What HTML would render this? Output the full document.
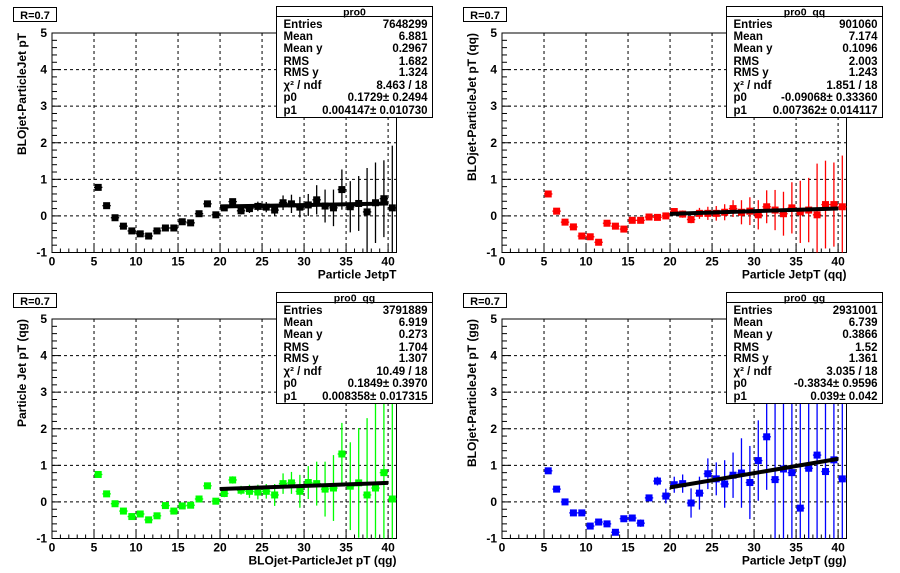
<!DOCTYPE html>
<html><head><meta charset="utf-8"><style>
html,body{margin:0;padding:0;background:#fff;overflow:hidden;width:900px;height:573px;}
svg{display:block;}
svg text{font-family:"Liberation Sans",Arial,sans-serif;font-weight:bold;}
</style></head><body>
<svg id="c" width="900" height="573" xmlns="http://www.w3.org/2000/svg"></svg>
<script>
const binCenters=[5.5,6.5,7.5,8.5,9.5,10.5,11.5,12.5,13.5,14.5,15.5,16.5,17.5,18.5,19.5,20.5,21.5,22.5,23.5,24.5,25.5,26.5,27.5,28.5,29.5,30.5,31.5,32.5,33.5,34.5,35.5,36.5,37.5,38.5,39.5,40.5];
const allVals=[0.78,0.28,-0.05,-0.28,-0.41,-0.49,-0.55,-0.41,-0.33,-0.33,-0.16,-0.19,0.06,0.33,0.03,0.22,0.39,0.14,0.2,0.26,0.24,0.16,0.36,0.33,0.24,0.3,0.44,0.27,0.22,0.72,0.25,0.34,0.11,0.36,0.47,0.22];
const allErrs=[0.03,0.03,0.03,0.03,0.03,0.03,0.03,0.03,0.03,0.03,0.03,0.03,0.03,0.03,0.03,0.08,0.08,0.1,0.12,0.13,0.14,0.15,0.2,0.25,0.28,0.3,0.4,0.45,0.5,0.55,0.7,0.75,1.2,1.1,1.05,1.7];
const qqVals=[0.6,0.13,-0.17,-0.3,-0.55,-0.57,-0.72,-0.2,-0.28,-0.36,-0.12,-0.12,-0.03,-0.04,0.0,0.12,0.05,-0.1,0.07,0.07,0.07,0.1,0.2,0.1,0.13,0.03,0.25,0.16,0.06,0.22,0.11,0.16,0.03,0.31,0.31,0.25];
const qqErrs=[0.03,0.03,0.03,0.03,0.03,0.03,0.03,0.03,0.03,0.03,0.03,0.03,0.04,0.05,0.06,0.08,0.1,0.1,0.15,0.18,0.2,0.22,0.23,0.33,0.38,0.4,0.45,0.55,0.6,0.7,0.85,0.88,1.4,1.2,1.15,1.4];
const qgVals=[0.75,0.22,-0.05,-0.25,-0.4,-0.33,-0.49,-0.38,-0.1,-0.25,-0.11,-0.09,0.08,0.44,0.02,0.23,0.6,0.32,0.29,0.27,0.29,0.19,0.5,0.52,0.29,0.53,0.5,0.35,0.38,1.31,0.43,0.52,0.19,0.38,0.8,0.08];
const qgErrs=[0.03,0.03,0.03,0.03,0.03,0.03,0.03,0.03,0.03,0.03,0.03,0.03,0.04,0.05,0.06,0.1,0.1,0.12,0.18,0.2,0.2,0.3,0.28,0.3,0.45,0.45,0.6,0.75,0.9,0.85,1.2,1.5,2.1,2.4,2.5,2.6];
const ggVals=[0.85,0.35,0.0,-0.3,-0.3,-0.66,-0.55,-0.6,-0.83,-0.46,-0.44,-0.58,0.11,0.57,0.16,0.47,0.5,-0.03,0.24,0.77,0.63,0.49,0.73,0.79,0.53,1.13,1.78,0.61,0.9,0.8,-0.17,0.92,1.28,0.83,1.15,0.63];
const ggErrs=[0.03,0.03,0.03,0.03,0.03,0.03,0.03,0.03,0.03,0.04,0.04,0.1,0.07,0.12,0.2,0.22,0.25,0.4,0.45,0.42,0.45,0.65,0.62,0.95,1.0,1.1,1.45,4,4,4,4,4,4,4,4,4];
const xTicks=[0,5,10,15,20,25,30,35,40];
const yTicks=[-1,0,1,2,3,4,5];
const panels=[
 {ox:0,oy:0,vals:allVals,errs:allErrs,color:'#000',p0:0.1729,p1:0.004147,title:'pro0',xt:'Particle JetpT',yt:'BLOjet-ParticleJet pT',
  stats:[['Entries','7648299'],['Mean','6.881'],['Mean y','0.2967'],['RMS','1.682'],['RMS y','1.324'],['χ² / ndf','8.463 / 18'],['p0','0.1729± 0.2494'],['p1','0.004147± 0.010730']]},
 {ox:450,oy:0,vals:qqVals,errs:qqErrs,color:'#f00',p0:-0.09068,p1:0.007362,title:'pro0_qq',xt:'Particle JetpT (qq)',yt:'BLOjet-ParticleJet pT (qq)',
  stats:[['Entries','901060'],['Mean','7.174'],['Mean y','0.1096'],['RMS','2.003'],['RMS y','1.243'],['χ² / ndf','1.851 / 18'],['p0','-0.09068± 0.33360'],['p1','0.007362± 0.014117']]},
 {ox:0,oy:286,vals:qgVals,errs:qgErrs,color:'#0f0',p0:0.1849,p1:0.008358,title:'pro0_qg',xt:'BLOjet-ParticleJet pT (qg)',yt:'Particle Jet pT (qg)',
  stats:[['Entries','3791889'],['Mean','6.919'],['Mean y','0.273'],['RMS','1.704'],['RMS y','1.307'],['χ² / ndf','10.49 / 18'],['p0','0.1849± 0.3970'],['p1','0.008358± 0.017315']]},
 {ox:450,oy:286,vals:ggVals,errs:ggErrs,color:'#00f',p0:-0.3834,p1:0.039,title:'pro0_gg',xt:'Particle JetpT (gg)',yt:'BLOjet-ParticleJet pT (gg)',
  stats:[['Entries','2931001'],['Mean','6.739'],['Mean y','0.3866'],['RMS','1.52'],['RMS y','1.361'],['χ² / ndf','3.035 / 18'],['p0','-0.3834± 0.9596'],['p1','0.039± 0.042']]}
];
const NS='http://www.w3.org/2000/svg';
const svg=document.getElementById('c');
function el(tag,attrs,parent,txt){const e=document.createElementNS(NS,tag);for(const k in attrs)e.setAttribute(k,attrs[k]);if(txt!==undefined)e.textContent=txt;parent.appendChild(e);return e;}
panels.forEach((p,i)=>{
 const g=el('g',{},svg);
 
 
 const L=p.ox+52,R=p.ox+396.5,T=p.oy+33,B=p.oy+252.5;
 const xs=v=>L+(v/41)*(R-L);
 const ys=v=>B-((v+1)/6)*(B-T);
 const clipId='clip'+i;
 const cp=el('clipPath',{id:clipId},g);el('rect',{x:L,y:T,width:R-L,height:B-T},cp);
 xTicks.forEach(t=>{if(t>0){const l=el('line',{x1:xs(t),x2:xs(t),y1:T,y2:B,stroke:'#000','stroke-dasharray':'3,3','stroke-width':1},g);}});
 yTicks.forEach(t=>{if(t>-1&&t<5){const l=el('line',{x1:L,x2:R,y1:ys(t),y2:ys(t),stroke:'#000','stroke-dasharray':'3,3','stroke-width':1},g);}});
 const fr=el('rect',{x:L,y:T,width:R-L,height:B-T,fill:'none',stroke:'#000','stroke-width':1},g);
 
 for(let v=0;v<=41;v++){const len=(v%5===0)?8:4;el('line',{x1:xs(v),x2:xs(v),y1:B,y2:B-len,stroke:'#000'},g);}
 for(let k=0;k<=30;k++){const v=-1+k*0.2;const len=(k%5===0)?9:5;el('line',{x1:L,x2:L+len,y1:ys(v),y2:ys(v),stroke:'#000'},g);}
 xTicks.forEach(t=>{const tx=el('text',{x:xs(t),y:B+13,'font-size':12,'text-anchor':'middle'},g,String(t));});
 yTicks.forEach(t=>{const tx=el('text',{x:L-5,y:ys(t)+4,'font-size':12,'text-anchor':'end'},g,String(t));});
 const xt=el('text',{x:R,y:B+26,'font-size':12,'text-anchor':'end'},g,p.xt);
 
 const ytx=p.ox+26,yty=T;
 const yt=el('text',{x:ytx,y:yty,'font-size':12,'text-anchor':'end',transform:`rotate(-90 ${ytx} ${yty})`},g,p.yt);
 
 const dg=el('g',{'clip-path':`url(#${clipId})`},g);
 binCenters.forEach((x,j)=>{
  const v=p.vals[j],e=p.errs[j];
  el('line',{x1:xs(x),x2:xs(x),y1:ys(v-e),y2:ys(v+e),stroke:p.color,'stroke-width':1.3},dg);
  el('line',{x1:xs(x-0.5),x2:xs(x+0.5),y1:ys(v),y2:ys(v),stroke:p.color,'stroke-width':1.3},dg);
  const m=el('rect',{x:xs(x)-3.5,y:ys(v)-3.5,width:7,height:7,fill:p.color},dg);
  
 });
 const fl=el('line',{x1:xs(20),x2:xs(40),y1:ys(p.p0+p.p1*20),y2:ys(p.p0+p.p1*40),stroke:'#000','stroke-width':4},dg);
 
 const rg=el('g',{},g);
 
 el('rect',{x:p.ox+13.5,y:p.oy+7.5,width:43,height:14,fill:'#fff',stroke:'#000'},rg);
 el('text',{x:p.ox+35,y:p.oy+19,'font-size':11,'text-anchor':'middle'},rg,'R=0.7');
 const sg=el('g',{},g);
 
 const bx=p.ox+276.5,by=p.oy+6.5,bw=156,bh=111;
 el('rect',{x:bx,y:by,width:bw,height:bh,fill:'#fff',stroke:'#000'},sg);
 el('line',{x1:bx,x2:bx+bw,y1:by+10,y2:by+10,stroke:'#000'},sg);
 el('text',{x:bx+bw/2,y:by+9,'font-size':10.5,'text-anchor':'middle'},sg,p.title);
 const rows=[24,36,48,61,72,85,97,110];
 p.stats.forEach((s,k)=>{
  el('text',{x:bx+7,y:p.oy+rows[k]+4,'font-size':11.5},sg,s[0]);
  el('text',{x:bx+bw-5,y:p.oy+rows[k]+4,'font-size':11.5,'text-anchor':'end'},sg,s[1]);
 });
});
</script>
</body></html>
